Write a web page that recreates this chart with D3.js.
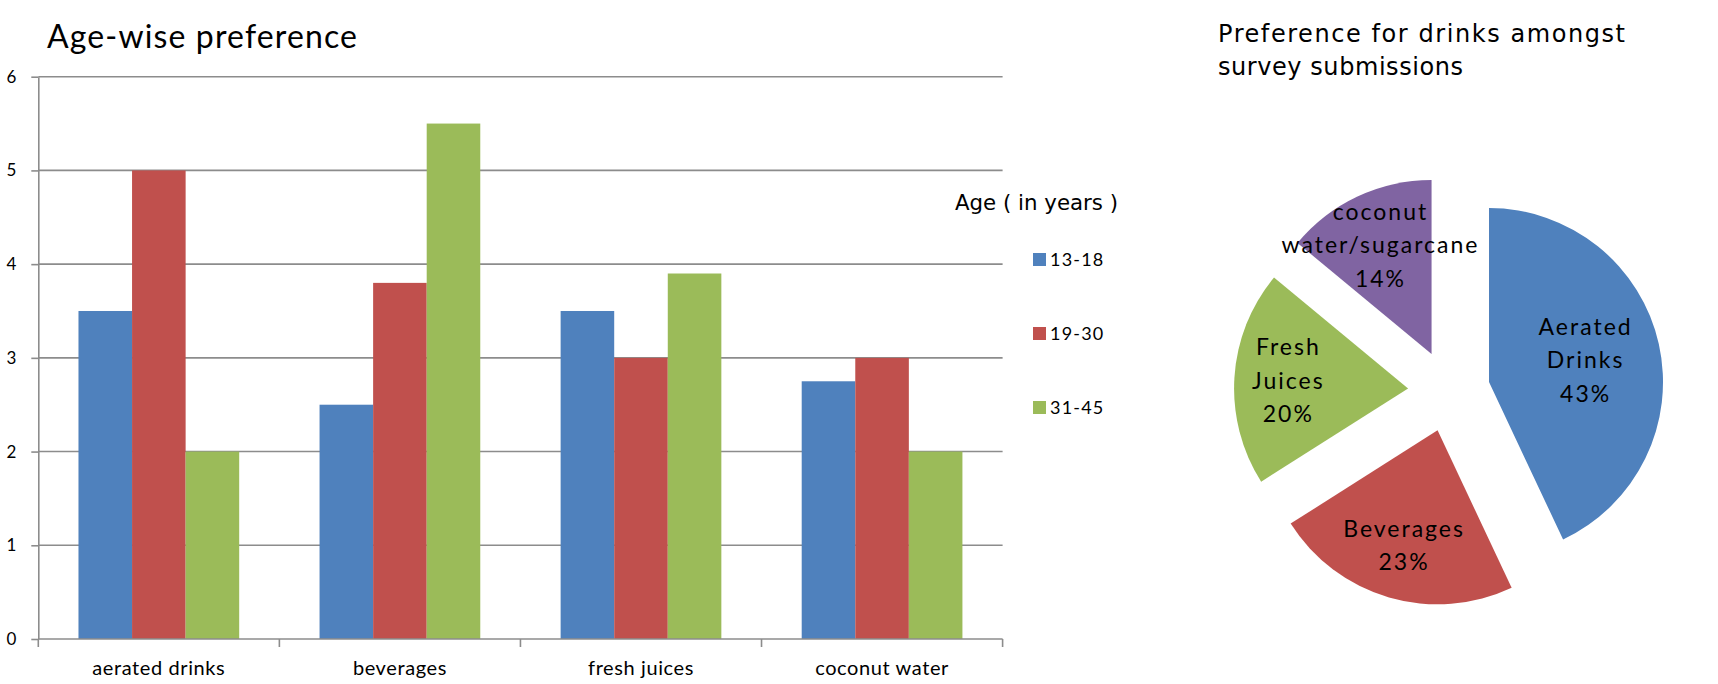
<!DOCTYPE html>
<html><head><meta charset="utf-8">
<script src="https://cdn.jsdelivr.net/npm/d3@7"></script>
<style>body{margin:0;background:#fff}</style>
</head><body>
<svg id="c" width="1718" height="684"></svg>
<script>
// ---- data ----
const categories = ["aerated drinks", "beverages", "fresh juices", "coconut water"];
const seriesNames = ["13-18", "19-30", "31-45"];
const values1318 = [3.5, 2.5, 3.5, 2.75];
const values1930 = [5, 3.8, 3, 3];
const values3145 = [2, 5.5, 3.9, 2];
const yTicks = [0, 1, 2, 3, 4, 5, 6];
const barTitle = "Age-wise preference";
const legendTitle = "Age ( in years )";
const pieTitleLines = ["Preference for drinks amongst", "survey submissions"];
const pieNames = [["Aerated", "Drinks"], ["Beverages"], ["Fresh", "Juices"], ["coconut", "water/sugarcane"]];
const pieValues = [43, 23, 20, 14];
const seriesColors = ["#4F81BD", "#C0504D", "#9BBB59"];
const pieColors = ["#4F81BD", "#C0504D", "#9BBB59", "#8064A2"];

// ---- layout ----
const svg = d3.select("#c");
const X0 = 38.3, X1 = 1002.6, Y0 = 639, Y1 = 76.7;
const gridColor = "#8c8c8c";
const calib = "Lato, 'Open Sans', sans-serif";
const gothic = "'DejaVu Sans', sans-serif";

const x = d3.scaleBand().domain(categories).range([X0, X1]).padding(0);
const B = x.bandwidth();
const x1 = d3.scaleBand().domain(seriesNames).range([B / 6, B * 5 / 6]).padding(0);
const y = d3.scaleLinear().domain([0, 6]).range([Y0, Y1]);

// title
svg.append("text").attr("x", 47).attr("y", 48).attr("font-family", calib)
  .attr("font-size", 32).attr("textLength", 310).attr("lengthAdjust", "spacing")
  .attr("fill", "#000").text(barTitle);

// gridlines
svg.append("g").selectAll("line").data(yTicks.filter(d => d > 0)).join("line")
  .attr("x1", X0).attr("x2", X1).attr("y1", d => y(d)).attr("y2", d => y(d))
  .attr("stroke", gridColor).attr("stroke-width", 1.6);

// bars
const seriesVals = [values1318, values1930, values3145];
const barData = [];
categories.forEach((c, i) => seriesNames.forEach((s, j) => barData.push({c, s, v: seriesVals[j][i], j})));
svg.append("g").selectAll("rect").data(barData).join("rect")
  .attr("x", d => x(d.c) + x1(d.s)).attr("width", x1.bandwidth())
  .attr("y", d => y(d.v)).attr("height", d => y(0) - y(d.v))
  .attr("fill", d => seriesColors[d.j]);

// y axis
const ya = svg.append("g").attr("transform", `translate(${X0},0)`)
  .call(d3.axisLeft(y).tickValues(yTicks).tickSize(7).tickSizeOuter(0).tickPadding(15).tickFormat(d3.format("d")));
ya.select(".domain").attr("stroke", gridColor).attr("stroke-width", 1.6);
ya.selectAll(".tick line").attr("stroke", gridColor).attr("stroke-width", 1.6);
ya.selectAll(".tick text").attr("font-family", calib).attr("font-size", 17).attr("fill", "#000");

// x axis
const xa = svg.append("g").attr("transform", `translate(0,${Y0})`)
  .call(d3.axisBottom(x).tickSize(0).tickPadding(22));
xa.select(".domain").remove();
xa.selectAll(".tick text").attr("font-family", calib).attr("font-size", 20)
  .attr("letter-spacing", 0.6).attr("fill", "#000");
svg.append("line").attr("x1", X0).attr("x2", X1).attr("y1", Y0).attr("y2", Y0)
  .attr("stroke", gridColor).attr("stroke-width", 1.6);
const bounds = categories.map(c => x(c)).concat([x.range()[1]]);
svg.append("g").selectAll("line").data(bounds).join("line")
  .attr("x1", d => d).attr("x2", d => d).attr("y1", Y0).attr("y2", Y0 + 8)
  .attr("stroke", gridColor).attr("stroke-width", 1.6);

// legend
svg.append("text").attr("x", 955).attr("y", 210).attr("font-family", gothic)
  .attr("font-size", 21).attr("textLength", 163).attr("lengthAdjust", "spacingAndGlyphs")
  .attr("fill", "#000").text(legendTitle);
const lg = svg.append("g").selectAll("g").data(seriesNames).join("g")
  .attr("transform", (d, i) => `translate(1033,${253 + i * 74})`);
lg.append("rect").attr("width", 13).attr("height", 13).attr("fill", (d, i) => seriesColors[i]);
lg.append("text").attr("x", 17).attr("y", 13).attr("font-family", calib).attr("font-size", 18)
  .attr("letter-spacing", 1.2).attr("fill", "#000").text(d => d);

// pie title
svg.append("g").selectAll("text").data(pieTitleLines).join("text")
  .attr("x", 1218).attr("y", (d, i) => 41.7 + i * 33.5).attr("font-family", gothic)
  .attr("font-size", 24).attr("textLength", (d, i) => i === 0 ? 407 : 245)
  .attr("lengthAdjust", "spacing").attr("fill", "#000").text(d => d);

// pie
const cx = 1449, cy = 391, R = 174, explode = 41;
const pie = d3.pie().sort(null).value(d => d.v);
const arcs = pie(pieValues.map((v, i) => ({v, i, name: pieNames[i]})));
const arc = d3.arc().innerRadius(0).outerRadius(R);
const dir = a => [Math.sin(a), -Math.cos(a)];
const pg = svg.append("g").attr("transform", `translate(${cx},${cy})`);
const slices = pg.selectAll("g").data(arcs).join("g")
  .attr("transform", d => {
    const m = (d.startAngle + d.endAngle) / 2, [ux, uy] = dir(m);
    return `translate(${ux * explode},${uy * explode})`;
  });
slices.append("path").attr("d", arc).attr("fill", d => pieColors[d.data.i]);
slices.each(function (d) {
  const m = (d.startAngle + d.endAngle) / 2, [ux, uy] = dir(m);
  const lr = d.data.v > 30 ? 99 : 120;
  const lx = ux * lr, ly = uy * lr;
  const lines = d.data.name.concat([d.data.v + "%"]);
  const n = lines.length, lh = 33.5;
  d3.select(this).selectAll("text").data(lines).join("text")
    .attr("x", lx).attr("y", (t, k) => ly + (k - (n - 1) / 2) * lh + 8)
    .attr("text-anchor", "middle").attr("font-family", calib).attr("font-size", 23)
    .attr("letter-spacing", 2).attr("fill", "#000").text(t => t);
});
</script>
</body></html>
